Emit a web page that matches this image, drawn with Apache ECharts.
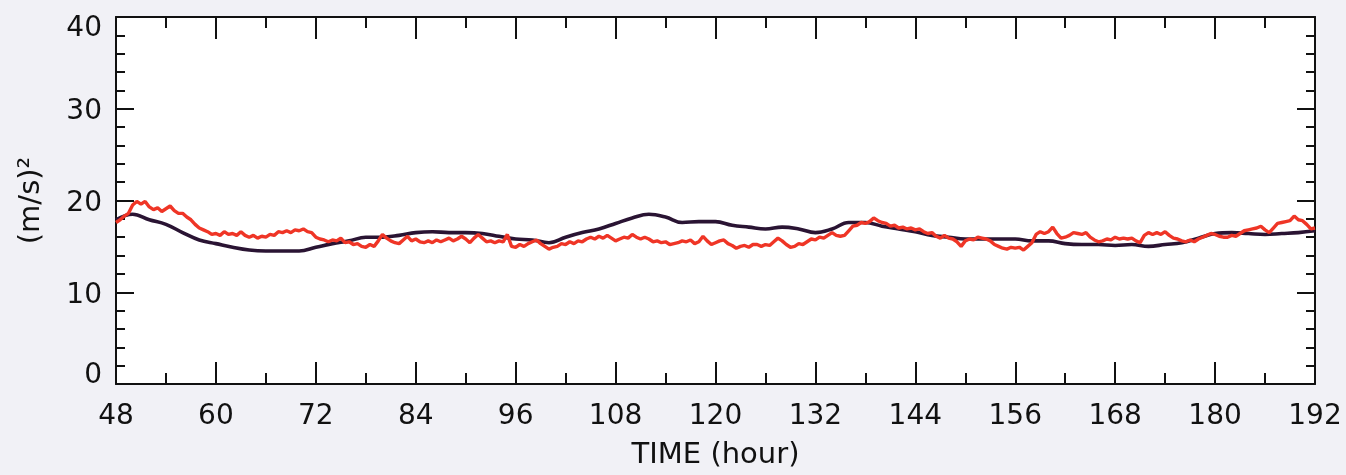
<!DOCTYPE html>
<html>
<head>
<meta charset="utf-8">
<title>TIME series</title>
<script src="https://cdn.jsdelivr.net/npm/echarts@6/dist/echarts.min.js"></script>
<style>
  html, body { margin: 0; padding: 0; background: #f1f1f6; }
  #chart { width: 1346px; height: 475px; }
</style>
</head>
<body>
<div id="chart"></div>
<script>
// Axis ranges and tick labels
const xTicks = [48, 60, 72, 84, 96, 108, 120, 132, 144, 156, 168, 180, 192];
const yTicks = [0, 10, 20, 30, 40];

// Smooth (dark) series, one value every 2 hours from 48 to 192
const darkStart = 48, darkStep = 2;
const darkValues = [
  17.9, 18.5, 17.9, 17.4, 16.5, 15.7, 15.3, 14.9, 14.6, 14.5, 14.5, 14.5,
  14.9, 15.3, 15.6, 16.0, 16.0, 16.2, 16.5, 16.6, 16.5, 16.5, 16.4, 16.1,
  15.8, 15.7, 15.4, 16.0, 16.5, 16.9, 17.5, 18.1, 18.5, 18.2, 17.6, 17.7,
  17.7, 17.3, 17.1, 16.9, 17.1, 16.9, 16.5, 16.9, 17.6, 17.6, 17.2, 16.9,
  16.6, 16.2, 16.0, 15.8, 15.8, 15.8, 15.8, 15.6, 15.6, 15.3, 15.2, 15.2,
  15.1, 15.2, 15.0, 15.2, 15.4, 15.9, 16.4, 16.5, 16.4, 16.3, 16.4, 16.5,
  16.7
];

// Noisy (red) series, one value every half hour from 48 to 192
const redStart = 48, redStep = 0.5;
const redValues = [
  // 48 - 60
  17.6, 17.9, 18.3, 18.6, 19.5, 19.9, 19.6, 19.9, 19.3, 19.0, 19.2, 18.8,
  19.1, 19.4, 18.9, 18.6, 18.6, 18.2, 17.9, 17.4, 17.0, 16.8, 16.6, 16.3,
  // 60 - 72
  16.4, 16.2, 16.6, 16.3, 16.4, 16.2, 16.6, 16.2, 16.0, 16.2, 15.9, 16.1,
  16.0, 16.3, 16.2, 16.6, 16.5, 16.7, 16.5, 16.8, 16.7, 16.9, 16.6, 16.5,
  // 72 - 84
  16.0, 15.8, 15.7, 15.5, 15.7, 15.6, 15.9, 15.4, 15.5, 15.2, 15.3, 15.0,
  14.9, 15.2, 15.0, 15.6, 16.3, 15.9, 15.6, 15.4, 15.3, 15.7, 16.1, 15.6,
  // 84 - 96
  15.8, 15.5, 15.4, 15.6, 15.4, 15.7, 15.5, 15.7, 15.9, 15.6, 15.8, 16.1,
  15.8, 15.4, 15.9, 16.3, 15.9, 15.5, 15.6, 15.4, 15.6, 15.5, 16.3, 15.0,
  // 96 - 108
  14.9, 15.2, 15.0, 15.3, 15.5, 15.7, 15.3, 15.0, 14.7, 14.9, 15.0, 15.3,
  15.2, 15.5, 15.3, 15.6, 15.5, 15.8, 16.0, 15.8, 16.1, 15.9, 16.2, 15.9,
  // 108 - 120
  15.6, 15.8, 16.0, 15.9, 16.3, 16.0, 15.8, 16.0, 15.8, 15.5, 15.6, 15.4,
  15.5, 15.2, 15.3, 15.4, 15.6, 15.5, 15.7, 15.3, 15.5, 16.1, 15.6, 15.2,
  // 120 - 132
  15.4, 15.6, 15.7, 15.3, 15.1, 14.8, 15.0, 15.1, 14.9, 15.2, 15.2, 15.0,
  15.2, 15.1, 15.5, 15.9, 15.6, 15.2, 14.9, 15.0, 15.3, 15.2, 15.5, 15.8,
  // 132 - 144
  15.7, 16.0, 15.9, 16.2, 16.5, 16.2, 16.1, 16.2, 16.7, 17.2, 17.3, 17.6,
  17.5, 17.7, 18.1, 17.8, 17.6, 17.5, 17.2, 17.3, 17.0, 17.1, 16.9, 17.0,
  // 144 - 156
  16.8, 16.9, 16.6, 16.4, 16.5, 16.1, 15.9, 16.2, 15.9, 15.8, 15.5, 15.0,
  15.6, 15.8, 15.7, 16.0, 15.9, 15.8, 15.6, 15.2, 15.0, 14.8, 14.7, 14.9,
  // 156 - 168
  14.8, 14.9, 14.6, 15.0, 15.4, 16.3, 16.6, 16.4, 16.6, 17.1, 16.4, 15.9,
  16.0, 16.2, 16.5, 16.4, 16.3, 16.5, 16.0, 15.7, 15.5, 15.6, 15.8, 15.7,
  // 168 - 180
  16.0, 15.8, 15.9, 15.8, 15.9, 15.6, 15.4, 16.2, 16.5, 16.3, 16.5, 16.3,
  16.6, 16.2, 15.9, 15.8, 15.6, 15.5, 15.7, 15.5, 15.8, 16.0, 16.2, 16.4,
  // 180 - 192
  16.3, 16.1, 16.0, 16.0, 16.2, 16.1, 16.4, 16.7, 16.8, 16.9, 17.0, 17.2,
  16.8, 16.5, 17.0, 17.5, 17.6, 17.7, 17.8, 18.3, 17.9, 17.8, 17.4, 16.9,
  17.0
];

const pairs = (start, step, vals) => vals.map((v, i) => [start + i * step, v]);

const FONT = '"DejaVu Sans", sans-serif';
const FS = 28;       // tick labels
const FS_NAME = 29;  // axis titles
const INK = '#111111';
const axisLine = { show: true, onZero: false, lineStyle: { color: INK, width: 2 } };

const xMin = xTicks[0], xMax = xTicks[xTicks.length - 1];
const xInterval = xTicks[1] - xTicks[0];
const yMin = yTicks[0], yMax = yTicks[yTicks.length - 1];
const yInterval = yTicks[1] - yTicks[0];

// End labels of the y axis sit inside the frame; the others sit a bit below their tick
function yLabel(v) {
  if (v === yMax) return '{top|' + v + '}';
  if (v === yMin) return '{bot|' + v + '}';
  return '{mid|' + v + '}';
}

const chart = echarts.init(document.getElementById('chart'), null, { renderer: 'canvas' });

chart.setOption({
  backgroundColor: '#f1f1f6',
  animation: false,
  grid: {
    left: 116, right: 31, top: 17, bottom: 90,
    show: true, backgroundColor: '#ffffff', borderWidth: 0
  },
  xAxis: [
    {
      type: 'value', position: 'bottom',
      min: xMin, max: xMax, interval: xInterval,
      name: 'TIME (hour)', nameLocation: 'middle', nameGap: 57,
      nameTextStyle: { fontFamily: FONT, fontSize: FS_NAME, color: INK },
      axisLine: axisLine,
      axisTick: { show: true, inside: true, length: 22, lineStyle: { color: INK, width: 2 } },
      minorTick: { show: true, splitNumber: 2, length: 11, lineStyle: { color: INK, width: 2 } },
      axisLabel: { fontFamily: FONT, fontSize: FS, color: INK, margin: 19 },
      splitLine: { show: false }
    },
    {
      type: 'value', position: 'top',
      min: xMin, max: xMax, interval: xInterval,
      axisLine: axisLine,
      axisTick: { show: true, inside: true, length: 22, lineStyle: { color: INK, width: 2 } },
      minorTick: { show: true, splitNumber: 2, length: 11, lineStyle: { color: INK, width: 2 } },
      axisLabel: { show: false },
      splitLine: { show: false }
    }
  ],
  yAxis: [
    {
      type: 'value', position: 'left',
      min: yMin, max: yMax, interval: yInterval,
      name: '(m/s)²', nameLocation: 'middle', nameGap: 70, nameRotate: 90,
      nameTextStyle: { fontFamily: FONT, fontSize: FS_NAME, color: INK },
      axisLine: axisLine,
      axisTick: { show: true, inside: true, length: 18, lineStyle: { color: INK, width: 2 } },
      minorTick: { show: true, splitNumber: 5, length: 9, lineStyle: { color: INK, width: 2 } },
      axisLabel: {
        fontFamily: FONT, fontSize: FS, color: INK, margin: 14,
        formatter: yLabel,
        rich: {
          top: { fontFamily: FONT, fontSize: FS, color: INK, padding: [24, 0, 0, 0] },
          mid: { fontFamily: FONT, fontSize: FS, color: INK, padding: [6, 0, 0, 0] },
          bot: { fontFamily: FONT, fontSize: FS, color: INK, padding: [0, 0, 16, 0] }
        }
      },
      splitLine: { show: false }
    },
    {
      type: 'value', position: 'right',
      min: yMin, max: yMax, interval: yInterval,
      axisLine: axisLine,
      axisTick: { show: true, inside: true, length: 18, lineStyle: { color: INK, width: 2 } },
      minorTick: { show: true, splitNumber: 5, length: 9, lineStyle: { color: INK, width: 2 } },
      axisLabel: { show: false },
      splitLine: { show: false }
    }
  ],
  series: [
    {
      name: 'smooth', type: 'line', xAxisIndex: 0, yAxisIndex: 0,
      data: pairs(darkStart, darkStep, darkValues),
      smooth: 0.4, showSymbol: false, symbol: 'none',
      lineStyle: { color: '#2a1433', width: 3.6 },
      z: 3
    },
    {
      name: 'noisy', type: 'line', xAxisIndex: 0, yAxisIndex: 0,
      data: pairs(redStart, redStep, redValues),
      showSymbol: false, symbol: 'none',
      lineStyle: { color: '#ef3526', width: 3.4 },
      z: 4
    }
  ]
});
</script>
</body>
</html>
